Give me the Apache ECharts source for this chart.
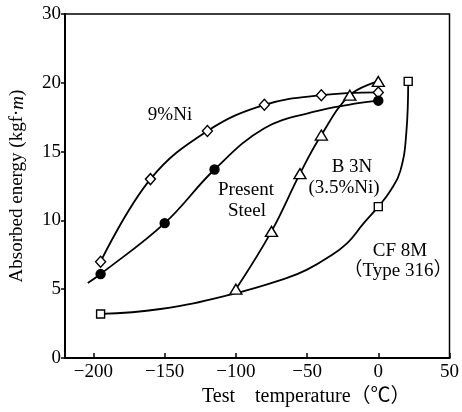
<!DOCTYPE html>
<html>
<head>
<meta charset="utf-8">
<script src="https://cdn.jsdelivr.net/npm/echarts@6/dist/echarts.min.js"></script>
<style>
html,body{margin:0;padding:0;background:#fff;}
#chart{width:462px;height:412px;}
</style>
</head>
<body>
<div id="chart"></div>
<script>
// 测点 (measured points)
var niTemp = [-195, -160, -120, -80, -40, 0];
var niEnergy = [7.0, 13.0, 16.5, 18.4, 19.1, 19.3];
var steelTemp = [-195, -150, -115, 0];
var steelEnergy = [6.1, 9.8, 13.7, 18.7];
var b3nTemp = [-100, -75, -55, -40, -20, 0];
var b3nEnergy = [5.0, 9.2, 13.4, 16.2, 19.1, 20.1];
var cfTemp = [-195, 0, 21];
var cfEnergy = [3.2, 11.0, 20.1];

// 曲线 (curves)
var steelCurveTemp = [-204, -195, -150, -115, -80, -45, -21, 0];
var steelCurveEnergy = [5.45, 6.1, 9.8, 13.7, 16.7, 17.9, 18.4, 18.7];
var cfCurveTemp = [-195, -153, -103, -64, -50, -36, -22, -10.5, 0, 8.5, 15.5, 19.7, 21];
var cfCurveEnergy = [3.2, 3.56, 4.63, 5.82, 6.42, 7.26, 8.33, 9.76, 11.0, 12.15, 13.6, 16.4, 20.1];

// 刻度
var xTicks = [-200, -150, -100, -50, 0, 50];
var yTicks = [0, 5, 10, 15, 20, 25];
var yTickLabels = ['0', '5', '10', '15', '20', '30'];

var FONT = "'Liberation Serif', 'Noto Sans CJK JP', serif";

function pairs(xs, ys){
	var out = [];
	for(var i=0;i<xs.length;i++){
		out.push([xs[i], ys[i]]);
	}
	return out;
}

function curve(xs, ys, sm){
	return {
		type: 'line', data: pairs(xs, ys), smooth: sm || 0.4, symbol: 'none', z: 2,
		lineStyle: {color: '#000', width: 1.8}, silent: true
	};
}

function marks(xs, ys, symbol, size, fill){
	return {
		type: 'scatter', data: pairs(xs, ys), symbol: symbol, symbolSize: size, z: 5,
		itemStyle: {color: fill, borderColor: '#000', borderWidth: 1.4, opacity: 1}
	};
}

function txt(x, y, s){
	return {
		type: 'text', x: x, y: y, z: 10,
		style: {text: s, fill: '#000', font: '19px ' + FONT, textAlign: 'center', textVerticalAlign: 'middle'}
	};
}

var myChart = echarts.init(document.getElementById('chart'));
myChart.setOption({
	backgroundColor: '#fff',
	animation: false,
	grid: {left: 65, right: 9, top: 14, bottom: 49, show: true, borderColor: '#000', borderWidth: 1.5},
	xAxis: {
		type: 'value', min: -220, max: 50,
		name: 'Test    temperature（℃）', nameLocation: 'middle', nameGap: 29,
		nameTextStyle: {color: '#000', fontSize: 20, fontFamily: FONT, padding: [0, 0, 0, 98]},
		axisLine: {onZero: false, lineStyle: {color: '#000', width: 2}},
		axisTick: {inside: true, length: 5, customValues: xTicks, lineStyle: {color: '#000', width: 1.5}},
		axisLabel: {customValues: xTicks, margin: 5, color: '#000', fontSize: 19, fontFamily: FONT,
			formatter: function(v){ return String(v).replace('-', '−'); }},
		splitLine: {show: false}
	},
	yAxis: {
		type: 'value', min: 0, max: 25, interval: 5,
		name: '{a|Absorbed energy (kgf·}{b|m}{a|)}', nameLocation: 'middle', nameGap: 38,
		nameTextStyle: {rich: {
			a: {color: '#000', fontSize: 19, fontFamily: FONT},
			b: {color: '#000', fontSize: 19, fontFamily: FONT, fontStyle: 'italic'}
		}},
		axisLine: {onZero: false, lineStyle: {color: '#000', width: 2}},
		axisTick: {length: 4, lineStyle: {color: '#000', width: 1.5}},
		axisLabel: {margin: 4, color: '#000', fontSize: 19, fontFamily: FONT,
			formatter: function(v){ var i = yTicks.indexOf(v); return i >= 0 ? yTickLabels[i] : ''; }},
		splitLine: {show: false}
	},
	graphic: [
		txt(170, 115, '9%Ni'),
		txt(246, 190, 'Present'),
		txt(247, 211, 'Steel'),
		txt(352, 167, 'B 3N'),
		txt(344, 188, '(3.5%Ni)'),
		txt(400, 251, 'CF 8M'),
		txt(398, 271, '（Type 316）')
	],
	series: [
		curve(niTemp, niEnergy),
		curve(steelCurveTemp, steelCurveEnergy),
		curve(b3nTemp, b3nEnergy),
		curve(cfCurveTemp, cfCurveEnergy, 0.45),
		marks(niTemp, niEnergy, 'diamond', [10, 11], '#fff'),
		marks(steelTemp, steelEnergy, 'circle', 9, '#000'),
		marks(b3nTemp, b3nEnergy, 'triangle', [12, 10], '#fff'),
		marks(cfTemp, cfEnergy, 'rect', 8, '#fff')
	]
});
</script>
</body>
</html>
